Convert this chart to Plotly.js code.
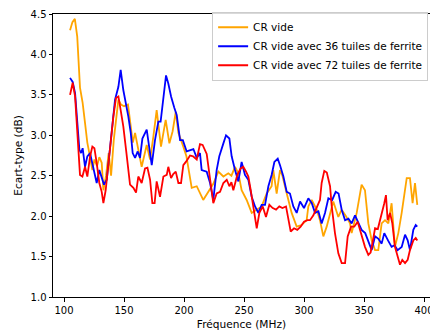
<!DOCTYPE html>
<html>
<head>
<meta charset="utf-8">
<script src="https://cdn.plot.ly/plotly-3.0.1.min.js"></script>
<style>html,body{margin:0;padding:0;background:#fff}#chart{width:430px;height:334px}</style>
</head>
<body>
<div id="chart"></div>
<script>
const seriesNames = ["CR vide", "CR vide avec 36 tuiles de ferrite", "CR vide avec 72 tuiles de ferrite"];

const freqVide = [105,107,109,111,113.3,115.5,117.5,119.4,121.7,123.6,125.3,127.5,129.4,131.4,132.8,135,137.2,139.2,141.5,143.5,145.3,147.5,150,153.3,155.6,157.3,159.2,161.9,164.7,168.9,171.7,174.4,177.2,180.8,184.7,187.8,190.5,193.1,195.3,199.4,202,206.4,210.6,216,220.3,224.4,228.6,232.8,236.9,239.5,242.5,245.3,248,252.2,256.4,260.6,264.7,268.9,273,274.4,277.2,280,282,285.6,289.7,293.9,297.9,302.2,303.6,306.4,310.6,313.3,316.1,318.9,321.7,324.4,328.6,331.4,335,338.3,339.7,343.9,348,350.8,353.6,356.4,359.2,361.9,364.7,367.5,370.3,373,375.8,378.6,381.4,385.6,388.3,390.5,392.5,394.4];
const stdVide = [4.30,4.40,4.44,4.22,3.59,3.40,3.15,2.91,2.73,2.57,2.70,2.62,2.73,2.66,2.32,2.50,2.78,2.50,2.95,3.25,3.44,3.38,3.36,3.38,3.11,2.91,3.03,2.82,2.61,2.88,2.70,2.98,3.31,2.86,3.19,2.90,3.05,3.29,3.03,2.86,2.74,2.35,2.37,2.20,2.30,2.40,2.55,2.49,2.53,2.50,2.61,2.53,2.32,2.20,2.04,2.08,2.12,2.28,2.37,2.57,2.28,2.57,2.50,2.28,2.04,1.87,1.89,1.95,2.12,2.20,2.08,1.95,1.75,1.87,2.04,2.18,1.99,2.08,2.00,1.91,1.79,2.04,2.39,2.32,1.91,1.70,1.58,1.58,1.91,1.95,1.91,2.16,1.62,1.79,2.04,2.47,2.47,2.16,2.41,2.14];

const freq36 = [105,107.2,109.2,111.1,112.8,114.2,115.5,117.5,119.4,121.7,124.4,127.2,129.4,131.4,133.3,135.6,138.3,140.6,142.5,145.3,147.2,149.4,151.7,153.6,155.6,157.2,159.2,161.4,163.3,165.3,168.9,171.7,173.1,175.8,178.6,180.5,182.8,185,186.9,189.2,191.9,193.9,196.7,199,202.2,205,207.8,210.6,213.3,214.7,218.9,221.7,224.4,227.2,229.4,232.8,235,237.8,239.7,242.5,245.3,248,250.8,253.6,256.4,259.2,261.9,264.7,267.5,270.3,273,275.3,278.1,280,282.8,285.6,288.3,291.1,293.9,296.7,300,303.6,306.5,309.2,312,314.7,317.5,320.3,323.5,326.4,328.8,331.4,334.2,337,339.7,342.5,345.3,348,351,353.6,356.4,359.2,362,364.7,366.9,370,373,375.5,378,381.4,384.2,386.4,388.3,391.1,393.1,394.4];
const std36 = [3.71,3.66,3.52,3.19,2.82,2.78,2.84,2.61,2.74,2.78,2.61,2.41,2.57,2.48,2.39,2.45,2.82,3.11,3.44,3.60,3.81,3.56,3.40,3.23,3.03,2.78,2.72,2.80,2.72,2.96,3.07,2.78,2.63,2.94,3.17,3.17,3.48,3.74,3.64,3.48,3.34,3.25,2.94,2.94,2.80,2.82,2.83,2.72,2.78,2.57,2.55,2.41,2.20,2.57,2.74,2.90,3.00,2.96,2.74,2.57,2.43,2.67,2.51,2.45,2.24,2.12,2.04,2.14,2.14,2.37,2.51,2.67,2.71,2.63,2.49,2.30,2.28,2.12,2.04,2.18,2.10,2.22,2.16,2.04,2.06,1.91,2.04,2.22,2.20,2.30,2.28,2.08,1.95,1.97,1.91,2.01,1.92,1.83,1.79,1.70,1.58,1.75,1.72,1.66,1.79,1.70,1.62,1.64,1.58,1.62,1.77,1.70,1.58,1.83,1.89,1.87];

const freq72 = [105,107.2,109.2,110.6,111.9,113.3,115.3,117.5,119.4,121.7,123.6,125.3,127.2,129.4,131.4,132.8,134.7,136.9,138.9,141.1,143.3,145.3,147.2,149.4,151.7,153.6,155,157.8,160,161.9,164.7,167.5,169.5,171.7,173.6,175.5,177.2,180,182.8,185.6,186.9,189.2,191,193.1,195.3,197.5,199.4,202,205,207.5,210.6,213.3,215.5,218.9,221.7,224.4,227.2,230,232.8,235.6,237.8,239.5,241.1,244.4,247.2,249.4,251.7,253.6,255.6,257.8,260.6,262.8,265.6,268.3,271.1,273.9,276.7,279.4,282,285,286.9,288.9,291.7,294.4,297.2,300,302.8,305,307.8,310.6,313.3,314.7,316.9,319,321.7,323.1,325.8,328.6,331.4,334.2,336.4,339.2,341.9,344.7,347.5,350.8,353.6,355.5,357.8,359.2,361.5,364.2,366.9,368.3,369.7,371.7,373.6,375.8,378,380,381.9,384.2,386.4,388.3,391.1,393.1,394.4];
const std72 = [3.50,3.65,3.48,3.19,2.82,2.51,2.49,2.61,2.49,2.74,2.86,2.84,2.66,2.41,2.30,2.16,2.32,2.66,2.98,3.23,3.46,3.48,3.31,3.11,2.82,2.61,2.39,2.35,2.29,2.49,2.41,2.59,2.60,2.45,2.16,2.16,2.43,2.24,2.49,2.51,2.61,2.47,2.52,2.55,2.41,2.41,2.63,2.68,2.75,2.74,2.70,2.89,2.88,2.77,2.47,2.16,2.28,2.30,2.41,2.45,2.37,2.42,2.32,2.51,2.59,2.61,2.55,2.49,2.32,2.12,1.85,2.04,2.12,1.99,2.14,2.10,2.08,2.12,2.10,2.12,1.95,1.81,1.85,1.83,1.87,1.93,1.95,1.95,2.01,2.12,2.20,2.41,2.56,2.54,2.37,2.12,1.79,1.54,1.42,1.42,1.75,1.87,1.87,1.93,1.79,1.62,1.52,1.55,1.73,1.85,1.84,1.99,2.16,2.26,1.95,2.04,1.91,1.62,1.50,1.40,1.46,1.42,1.46,1.58,1.70,1.73,1.70];

const xTicks = [100,150,200,250,300,350,400];
const yTicks = [1.0,1.5,2.0,2.5,3.0,3.5,4.0,4.5];

const colors = ['#FFA500', '#0000FF', '#FF0000'];
const xs = [freqVide, freq36, freq72];
const ys = [stdVide, std36, std72];

const traces = seriesNames.map((n, i) => ({
  x: xs[i], y: ys[i], name: n, type: 'scatter', mode: 'lines',
  line: {color: colors[i], width: 1.8}
}));

const font = {family: 'DejaVu Sans, sans-serif', size: 10, color: '#000'};
const titleFont = {family: 'DejaVu Sans, sans-serif', size: 10.6, color: '#000'};
const layout = {
  width: 430, height: 334,
  margin: {l: 53, r: 0, t: 14, b: 37, pad: 0},
  paper_bgcolor: '#fff', plot_bgcolor: '#fff',
  font: font,
  showlegend: true,
  legend: {
    x: 0.995, y: 1.008, xanchor: 'right', yanchor: 'top',
    bgcolor: 'rgba(255,255,255,0.85)', bordercolor: '#cccccc', borderwidth: 1,
    font: {family: 'DejaVu Sans, sans-serif', size: 10.5, color: '#000'},
    tracegroupgap: 0, itemwidth: 30
  },
  xaxis: {
    range: [90.8, 405], tickvals: xTicks, ticktext: xTicks.map(String),
    showgrid: false, zeroline: false, showline: true, mirror: true,
    linecolor: '#000', linewidth: 1, ticks: 'outside', ticklen: 3.5, tickwidth: 1, tickcolor: '#000',
    tickfont: font, ticklabeloverflow: 'allow',
    title: {text: 'Fréquence (MHz)', font: titleFont, standoff: 6}
  },
  yaxis: {
    range: [1.0, 4.5], tickvals: yTicks, ticktext: yTicks.map(v => v.toFixed(1)),
    showgrid: false, zeroline: false, showline: true, mirror: true,
    linecolor: '#000', linewidth: 1, ticks: 'outside', ticklen: 3.5, tickwidth: 1, tickcolor: '#000',
    tickfont: font,
    title: {text: 'Ecart-type (dB)', font: titleFont, standoff: 5}
  }
};

Plotly.newPlot('chart', traces, layout, {displayModeBar: false, staticPlot: true});
</script>
</body>
</html>
